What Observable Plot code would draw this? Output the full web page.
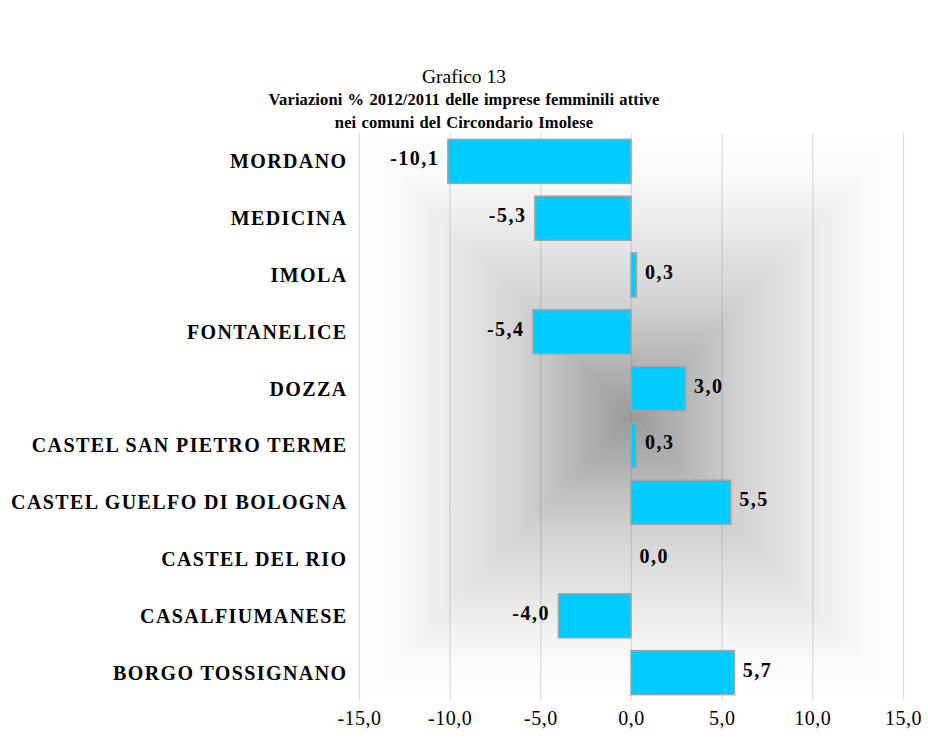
<!DOCTYPE html>
<html>
<head>
<meta charset="utf-8">
<script src="https://cdn.jsdelivr.net/npm/d3@7"></script>
<script src="https://cdn.jsdelivr.net/npm/@observablehq/plot@0.6"></script>
<style>
  html, body { margin: 0; padding: 0; background: #fff; font-family: "Liberation Serif", "Times New Roman", serif; }
  #title { box-sizing: border-box; height: 133px; padding-top: 65px; width: 928px; text-align: center; color: #000; overflow: hidden; }
  #title .l1 { font-size: 19.5px; line-height: 23px; height: 23px; }
  #title .l2 { font-size: 16.5px; line-height: 23px; height: 23px; font-weight: bold; letter-spacing: 0.1px; word-spacing: 1px; }
  #chart { margin: 0; padding: 0; line-height: 0; }
  #chart svg { display: block; }
  svg g[aria-label="y-axis tick label"] text { letter-spacing: 1.4px; }
  svg g[aria-label="x-axis tick label"] text { letter-spacing: 0.5px; }
  svg g[aria-label="text"] text { letter-spacing: 1.5px; }
</style>
</head>
<body>
<div id="title">
  <div class="l1">Grafico 13</div>
  <div class="l2">Variazioni % 2012/2011 delle imprese femminili attive</div>
  <div class="l2">nei comuni del Circondario Imolese</div>
</div>
<div id="chart"></div>
<script>
const comuni = [
  "MORDANO", "MEDICINA", "IMOLA", "FONTANELICE", "DOZZA",
  "CASTEL SAN PIETRO TERME", "CASTEL GUELFO DI BOLOGNA", "CASTEL DEL RIO",
  "CASALFIUMANESE", "BORGO TOSSIGNANO"
];
const variazioni = [-10.1, -5.3, 0.3, -5.4, 3.0, 0.3, 5.5, 0.0, -4.0, 5.7];
const xTicks = [-15, -10, -5, 0, 5, 10, 15];

const data = comuni.map((c, i) => ({comune: c, value: variazioni[i]}));
const fmt = v => v.toFixed(1).replace(".", ",");

function background(index, scales, values, dim) {
  const ns = "http://www.w3.org/2000/svg";
  const x0 = dim.marginLeft, x1 = dim.width - dim.marginRight;
  const y0 = dim.marginTop, y1 = dim.height - dim.marginBottom;
  const cx = (x0 + x1) / 2, cy = (y0 + y1) / 2;
  const g = document.createElementNS(ns, "g");
  const defs = document.createElementNS(ns, "defs");
  g.appendChild(defs);
  const parts = [
    {id: "bgT", pts: [[x0,y0],[x1,y0],[cx,cy]], from: [cx,y0]},
    {id: "bgB", pts: [[x0,y1],[x1,y1],[cx,cy]], from: [cx,y1]},
    {id: "bgL", pts: [[x0,y0],[x0,y1],[cx,cy]], from: [x0,cy]},
    {id: "bgR", pts: [[x1,y0],[x1,y1],[cx,cy]], from: [x1,cy]}
  ];
  for (const p of parts) {
    const lg = document.createElementNS(ns, "linearGradient");
    lg.setAttribute("id", p.id);
    lg.setAttribute("gradientUnits", "userSpaceOnUse");
    lg.setAttribute("x1", p.from[0]); lg.setAttribute("y1", p.from[1]);
    lg.setAttribute("x2", cx); lg.setAttribute("y2", cy);
    for (const [o, c] of [[0, "#ffffff"], [0.15, "#fafafa"], [0.6, "#d2d2d2"], [1, "#999999"]]) {
      const s = document.createElementNS(ns, "stop");
      s.setAttribute("offset", o); s.setAttribute("stop-color", c);
      lg.appendChild(s);
    }
    defs.appendChild(lg);
    const poly = document.createElementNS(ns, "polygon");
    poly.setAttribute("points", p.pts.map(d => d.join(",")).join(" "));
    poly.setAttribute("fill", `url(#${p.id})`);
    poly.setAttribute("stroke", `url(#${p.id})`);
    poly.setAttribute("stroke-width", 0.6);
    g.appendChild(poly);
  }
  return g;
}

const chart = Plot.plot({
  width: 928,
  height: 612,
  marginLeft: 359,
  marginRight: 25,
  marginTop: 0,
  marginBottom: 44,
  style: {fontFamily: "'Liberation Serif', 'Times New Roman', serif", color: "#000", background: "transparent", overflow: "visible"},
  x: {domain: [-15, 15], ticks: xTicks, tickFormat: fmt, label: null},
  y: {domain: comuni, paddingInner: 0.225, paddingOuter: 0.1125, round: false, label: null},
  marks: [
    background,
    Plot.ruleX(xTicks, {stroke: "#6f6f6f", strokeOpacity: 0.22, strokeWidth: 1.3}),
    Plot.ruleY([0], {frameAnchor: "bottom", stroke: "#bcbcbc", strokeWidth: 1.3}),
    Plot.axisX({ticks: xTicks, tickFormat: fmt, tickSize: 0, tickPadding: 9, fontSize: 20, label: null}),
    Plot.axisY({tickSize: 0, tickPadding: 12, fontSize: 20, fontWeight: "bold", label: null}),
    Plot.barX(data, {x1: 0, x2: "value", y: "comune", fill: "#00CCFF", stroke: "#a3a3a3", strokeWidth: 1.5}),
    Plot.text(data.filter(d => d.value < 0), {
      x: "value", y: "comune",
      text: d => fmt(d.value),
      textAnchor: "end", dx: -9, dy: -3,
      fontSize: 20, fontWeight: "bold", fill: "#000"
    }),
    Plot.text(data.filter(d => d.value >= 0), {
      x: "value", y: "comune",
      text: d => fmt(d.value),
      textAnchor: "start", dx: 8, dy: -3,
      fontSize: 20, fontWeight: "bold", fill: "#000"
    })
  ]
});
document.getElementById("chart").appendChild(chart);
</script>
</body>
</html>
